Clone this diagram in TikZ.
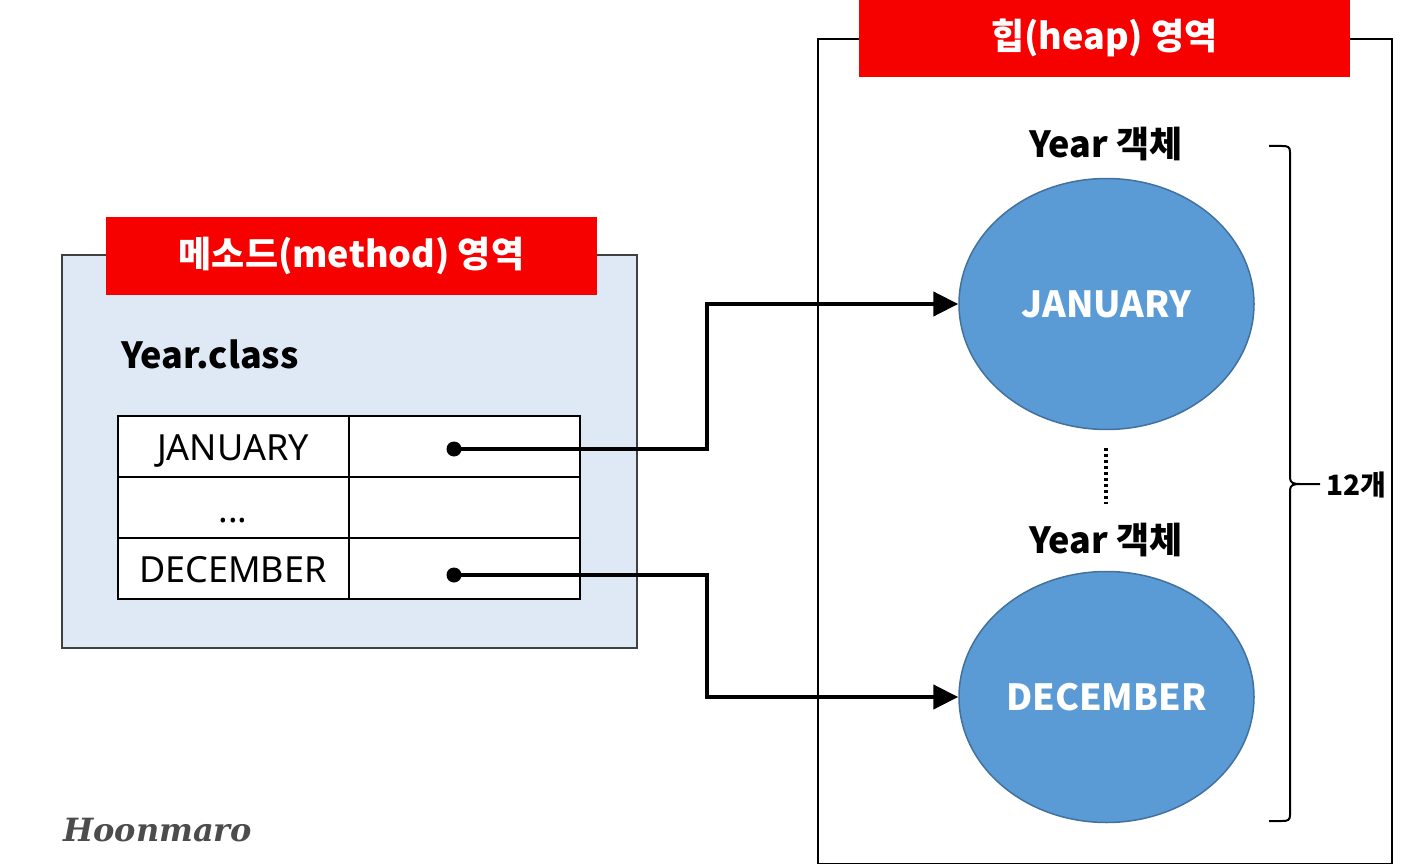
\documentclass[tikz,border=0pt]{standalone}
\usepackage{fontspec}
\setmainfont{Noto Sans CJK KR}
\newfontfamily\tablefont{Noto Sans}
\newfontfamily\markfont{DejaVu Serif}
\usetikzlibrary{arrows.meta,positioning,shapes.geometric}
\definecolor{bannerred}{RGB}{246,0,0}
\definecolor{methodblue}{RGB}{222,233,245}
\definecolor{ballblue}{RGB}{91,155,213}
\definecolor{ballline}{RGB}{65,113,156}
\tikzset{
  area/.style={draw=black!75, line width=2pt, anchor=north west, inner sep=0pt},
  banner/.style={fill=bannerred, text=white, font=\fontsize{36}{36}\bfseries, minimum width=491pt, minimum height=78pt, inner sep=0pt},
  title/.style={font=\fontsize{36}{36}\bfseries, inner sep=0pt},
  cell/.style={draw=black, line width=2pt, fill=white, minimum width=231pt, minimum height=61pt, inner sep=0pt, outer sep=0pt, text height=27pt, text depth=0pt, font=\tablefont\fontsize{36}{36}\selectfont},
  ball/.style={ellipse, draw=ballline, line width=1.5pt, fill=ballblue, text=white, minimum width=295pt, minimum height=251pt, inner sep=0pt, font=\fontsize{36}{36}\bfseries},
  pin/.style={circle, fill=black, minimum size=15pt, inner sep=0pt},
  flow/.style={-{Triangle[length=25pt, width=24pt]}, line width=4.5pt, draw=black}
}
\begin{document}
\begin{tikzpicture}[x=1pt, y=-1pt]
  \useasboundingbox (0,0) rectangle (1401,864);

  \node[area, fill=methodblue, minimum width=575pt, minimum height=393pt] (method) at (61,254) {};
  \node[area, draw=black, fill=white, minimum width=574pt, minimum height=825pt] (heap) at (817,38) {};
  \node[banner] (methodtitle) at (351.5,256) {메소드(method) 영역};
  \node[banner] (heaptitle) at (1104.5,38) {힙(heap) 영역};

  \node[title, anchor=west] (yearclass) at (121,354) {Year.class};
  \node[cell] (c1) at (233,446.5) {JANUARY};
  \node[cell, right=0pt of c1] (v1) {};
  \node[cell, below=0pt of c1, text height=29pt] (c2) {...};
  \node[cell, right=0pt of c2] (v2) {};
  \node[cell, below=0pt of c2] (c3) {DECEMBER};
  \node[cell, right=0pt of c3] (v3) {};

  \node[title] (yearjan) at (1106,144) {Year 객체};
  \node[ball] (jan) at (1106.5,304) {JANUARY};
  \node[title] (yeardec) at (1106,540) {Year 객체};
  \node[ball] (dec) at (1106.5,697) {DECEMBER};
  \coordinate (dotstart) at (1106,448);
  \coordinate (dotend) at (1106,504);
  \draw[line width=4pt, dash pattern=on 3pt off 3pt] (dotstart) -- (dotend);

  \node[pin] (pinjan) at (454,449) {};
  \node[pin] (pindec) at (454,575) {};
  \coordinate (bendjan) at (707,449);
  \coordinate (benddec) at (707,575);
  \draw[flow] (pinjan.center) -- (bendjan) |- (jan.west);
  \draw[flow] (pindec.center) -- (benddec) |- (dec.west);

  \coordinate (bracetop) at (1269,146);
  \coordinate (bracetip) at (1320,484);
  \coordinate (bracebot) at (1269,821);
  \draw[line width=2pt, draw=black] (bracetop) -- (1282,146) .. controls (1288,146) and (1290,147) .. (1290,152)
    -- (1290,478) .. controls (1290,483) and (1294,484) .. (1300,484) -- (bracetip)
    (1300,484) .. controls (1294,484) and (1290,485) .. (1290,490)
    -- (1290,815) .. controls (1290,820) and (1288,821) .. (1282,821) -- (bracebot);
  \node[anchor=west, inner sep=0pt, font=\fontsize{28}{28}\bfseries] (count) at (1326,485) {12개};

  \node[anchor=west, inner sep=0pt, text=black!70, font=\markfont\fontsize{32}{32}\bfseries\itshape] (mark) at (63,830) {Hoonmaro};
\end{tikzpicture}
\end{document}
